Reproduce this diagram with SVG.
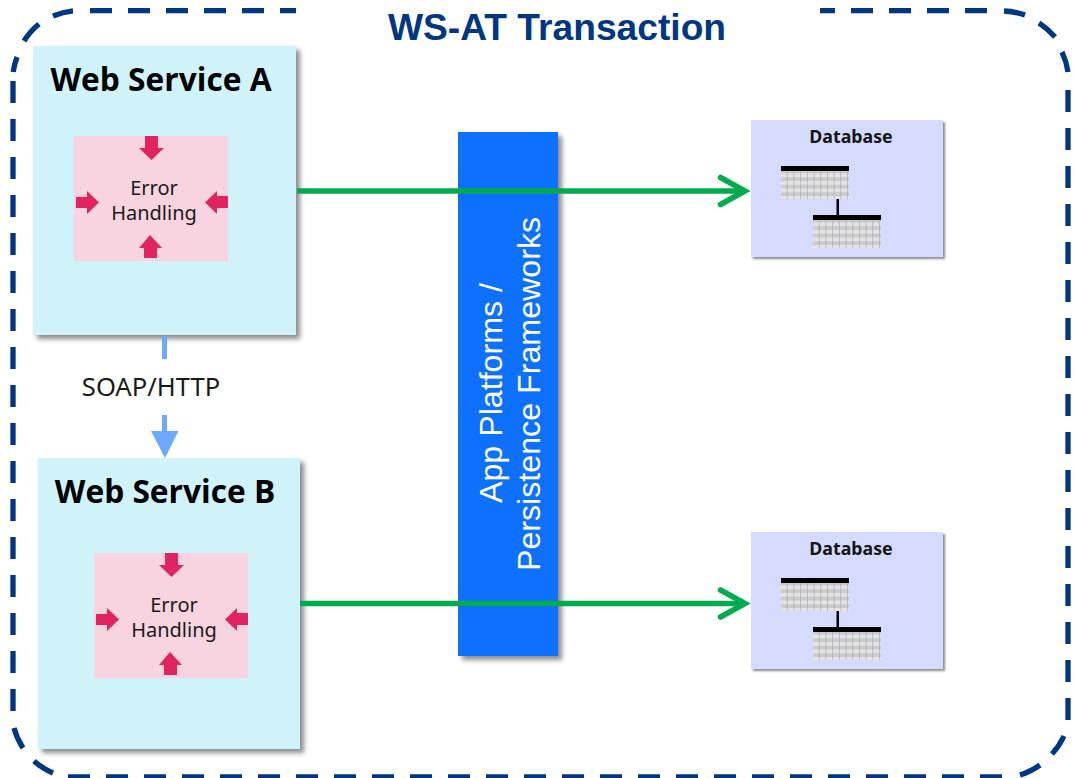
<svg xmlns="http://www.w3.org/2000/svg" width="1074" height="778" viewBox="0 0 1074 778">
<style>
.ws{fill:#d0f2f9;filter:url(#sh)}
.err{fill:#f8d3e0}
.pk{fill:#e0245f}
.db{fill:#d4dbff;filter:url(#sh2)}
.t1{font-family:"Open Sans","Noto Sans",sans-serif;font-weight:700;font-size:31.700px;fill:#000;text-anchor:middle}
.t2{font-family:"Noto Sans","Open Sans",sans-serif;font-size:20px;fill:#1a1a1a;text-anchor:middle}
.t3{font-family:"Noto Sans",sans-serif;font-weight:700;font-size:17.800px;fill:#161616;text-anchor:middle}
.g{stroke:#00ab50;stroke-width:5.500;fill:none}
.gh{stroke-linecap:round;stroke-linejoin:miter}
.v{font-family:"Liberation Sans",Arial,sans-serif;font-size:32.200px;fill:#fff;text-anchor:middle}
#frame path{fill:none;stroke:#003682;stroke-width:5.300}
</style>
<defs>
<filter id="sh" x="-10%" y="-10%" width="125%" height="125%"><feDropShadow dx="4" dy="4" stdDeviation="2.500" flood-color="#000" flood-opacity="0.45"/></filter>
<filter id="sh2" x="-10%" y="-10%" width="125%" height="125%"><feDropShadow dx="2" dy="2" stdDeviation="1.200" flood-color="#000" flood-opacity="0.45"/></filter>
<pattern id="grid" width="6.700" height="7.500" patternUnits="userSpaceOnUse">
<rect width="6.700" height="7.500" fill="#e4e4e4"/>
<rect y="3.700" width="6.700" height="3.800" fill="#cbcbcb"/>
<rect x="6" width="0.700" height="7.500" fill="#a9a9b8"/>
</pattern>
<g id="tbl">
<rect x="0" y="0" width="68" height="33" fill="url(#grid)"/>
<rect x="0" y="0" width="68" height="5" fill="#000"/>
</g>
<g id="errbox">
<rect class="err" x="0" y="0" width="154" height="125"/>
<path class="pk" d="M71 0h13v12h6L77.500 24 65 12h6z"/>
<path class="pk" d="M2 61h11v-6l12 11.500-12 11.500v-6H2z"/>
<path class="pk" d="M154 60h-11v-5l-12 11.500 12 11.500v-6h11z"/>
<path class="pk" d="M70 122v-10h-5l11-13 12 13h-5v10z"/>
</g>
</defs>
<rect width="1074" height="778" fill="#fff"/>
<g id="frame">
<path d="M296 10.600H90" stroke-dasharray="16 16 22 16 22 16 22 16 22 16 22 16"/>
<path d="M53 16A70 70 0 0 1 73 10.800M24 41A70 70 0 0 1 39 24M13.200 72A70 70 0 0 1 17 57"/>
<path d="M13 81V711" stroke-dasharray="22 16"/>
<path d="M53 773A70 70 0 0 1 34 761M23 748A70 70 0 0 1 14 728"/>
<path d="M68 777H1004" stroke-dasharray="22 16"/>
<path d="M1064 736A70 70 0 0 1 1052 754M1040 765A70 70 0 0 1 1020 775"/>
<path d="M1068 720V90" stroke-dasharray="22 16"/>
<path d="M1004 11A70 70 0 0 1 1025 15M1039 23A70 70 0 0 1 1055 37M1062 52A70 70 0 0 1 1068 72"/>
<path d="M820 10.600H988" stroke-dasharray="15 16 22 16 22 16 22 16 22"/>
</g>
<text x="557" y="40" font-family="Liberation Sans,Arial,sans-serif" font-weight="700" font-size="37.200" fill="#003682" text-anchor="middle">WS-AT Transaction</text>
<g id="platform">
<rect x="458" y="132" width="100" height="524" fill="#0f6fff" filter="url(#sh)"/>
<text class="v" transform="translate(502 393) rotate(-90)">App Platforms /</text>
<text class="v" transform="translate(540 394) rotate(-90)">Persistence Frameworks</text>
</g>
<g id="service-a">
<rect class="ws" x="33" y="46" width="263" height="289"/>
<text class="t1" x="161" y="91">Web Service A</text>
<use href="#errbox" x="74" y="136"/>
<text class="t2" x="154" y="195">Error</text>
<text class="t2" x="154" y="220">Handling</text>
</g>
<g id="service-b">
<rect class="ws" x="38" y="458" width="262" height="291"/>
<text class="t1" x="165" y="503">Web Service B</text>
<use href="#errbox" x="94" y="553"/>
<text class="t2" x="174" y="612">Error</text>
<text class="t2" x="174" y="637">Handling</text>
</g>
<g id="db-1">
<rect class="db" x="751" y="120" width="192" height="137"/>
<text class="t3" x="851" y="143">Database</text>
<use href="#tbl" x="781" y="166"/>
<use href="#tbl" x="813" y="215"/>
<rect x="836.500" y="199" width="2.500" height="17" fill="#000"/>
</g>
<g id="db-2">
<rect class="db" x="751" y="532" width="192" height="137"/>
<text class="t3" x="851" y="555">Database</text>
<use href="#tbl" x="781" y="578"/>
<use href="#tbl" x="813" y="627"/>
<rect x="836.500" y="611" width="2.500" height="17" fill="#000"/>
</g>
<g id="connectors">
<path d="M297 191H744" class="g"/>
<path d="M720.500 177.500L745 191L720.500 204.500" class="g gh"/>
<path d="M300 603.500H744" class="g"/>
<path d="M720.500 590L745 603.500L720.500 617" class="g gh"/>
<rect x="162" y="336" width="5" height="23" fill="#6ea8ff"/>
<rect x="162" y="415" width="5" height="17" fill="#6ea8ff"/>
<path d="M151 431H178.500L165 458z" fill="#6ea8ff"/>
<text class="t2" x="151" y="396" style="font-size:25.600px">SOAP/HTTP</text>
</g>
</svg>
